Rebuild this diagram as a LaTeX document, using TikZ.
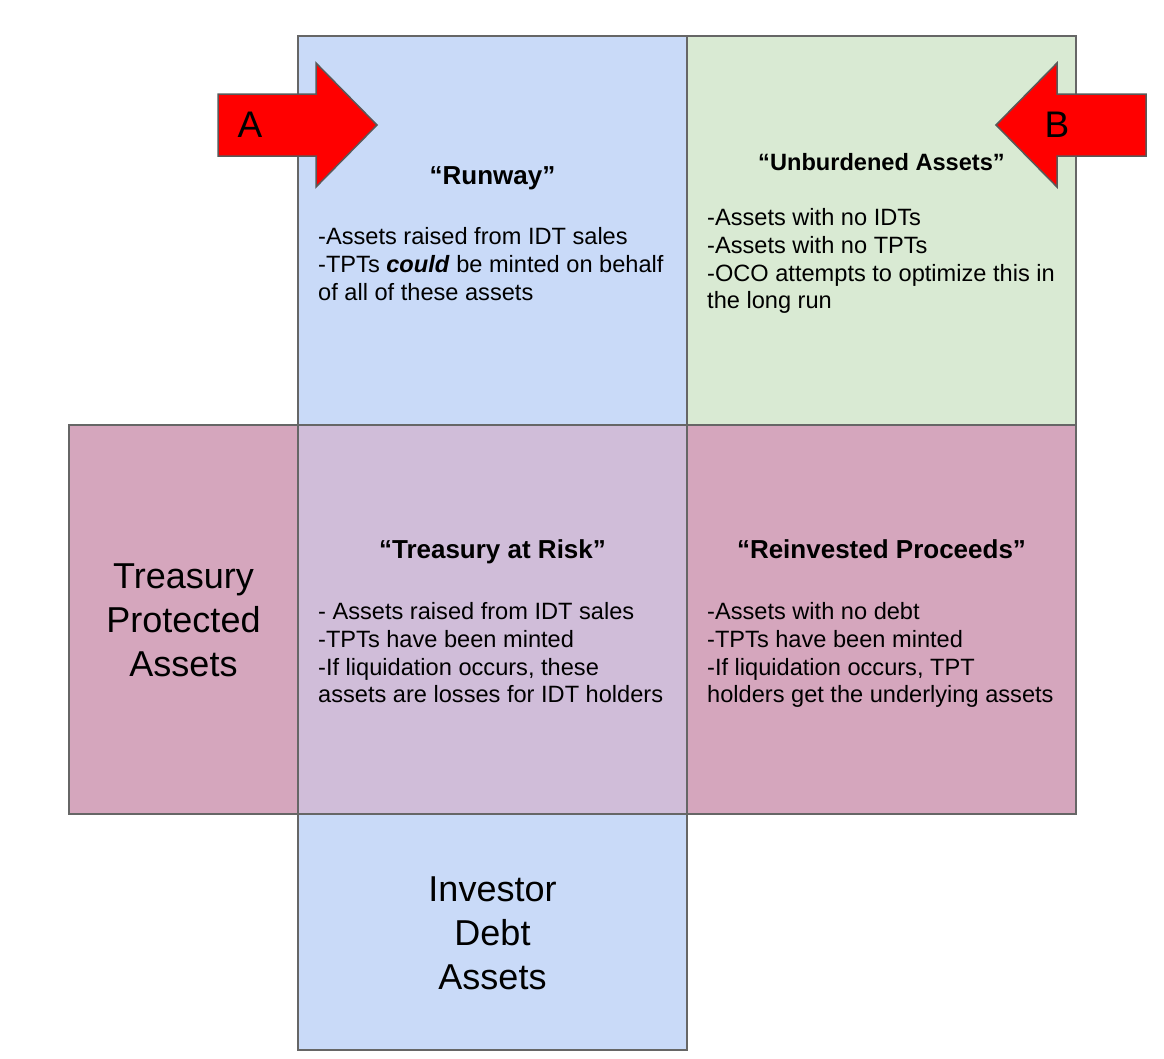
\documentclass[tikz,border=0pt]{standalone}
\usepackage{fontspec}
\setmainfont{Liberation Sans}
\usetikzlibrary{positioning}
\definecolor{runblue}{HTML}{C9DAF8}
\definecolor{freegreen}{HTML}{D9EAD3}
\definecolor{riskmauve}{HTML}{D0BDD9}
\definecolor{protpink}{HTML}{D5A6BD}
\definecolor{edgegray}{HTML}{666666}
\definecolor{arrowred}{HTML}{FF0000}
\definecolor{arrowgray}{HTML}{595959}

\begin{document}
\begin{tikzpicture}[x=1pt, y=-1pt,
    cell/.style={draw=edgegray, line width=2pt, anchor=north west, inner sep=0pt, outer sep=0pt,
      minimum width=389pt, minimum height=389pt},
    heading/.style={anchor=base, inner sep=0pt, font=\fontsize{26}{30}\selectfont\bfseries},
    bullets/.style={anchor=north west, inner sep=0pt, align=left, font=\fontsize{23.6}{27.6}\selectfont},
    biglabel/.style={inner sep=0pt, align=center, font=\fontsize{36}{44}\selectfont},
    bigarrow/.style={fill=arrowred, draw=arrowgray, line width=1.5pt, line join=miter}]
        \useasboundingbox (0,0) rectangle (1164,1058);
        % the six cells
        \node[cell, fill=runblue] (runway) at (298,36) {};
        \node[cell, fill=freegreen] (unburdened) at (687,36) {};
        \node[cell, fill=protpink, minimum width=229pt] (protected) at (69,425) {};
        \node[cell, fill=riskmauve] (atrisk) at (298,425) {};
        \node[cell, fill=protpink] (reinvested) at (687,425) {};
        \node[cell, fill=runblue, minimum height=236pt] (investor) at (298,814) {};
        % entry arrows
        \draw[bigarrow] (218,94) -- (316,94) -- (316,63) -- (377,125) -- (316,187) -- (316,156) -- (218,156) -- cycle;
        \draw[bigarrow] (1146,94) -- (1057,94) -- (1057,63) -- (996,125) -- (1057,187) -- (1057,156) -- (1146,156) -- cycle;
        \node[inner sep=0pt, font=\fontsize{37}{40}\selectfont] (labelA) at (250,125) {A};
        \node[inner sep=0pt, font=\fontsize{37}{40}\selectfont] (labelB) at (1057,125) {B};
        % headings and notes
        \node[heading] (runwayhead) at (492.5,184) {“Runway”};
        \node[bullets] (runwaytext) at (318,227.5) {-Assets raised from IDT sales\\-TPTs \textbf{\textit{could}} be minted on behalf\\of all of these assets};
        \node[heading, font=\fontsize{23.6}{28}\selectfont\bfseries] (freehead) at (881.5,170.5) {“Unburdened Assets”};
        \node[bullets] (freetext) at (707,208.5) {-Assets with no IDTs\\-Assets with no TPTs\\-OCO attempts to optimize this in\\the long run};
        \node[heading] (riskhead) at (492.5,558) {“Treasury at Risk”};
        \node[bullets] (risktext) at (318,602.5) {- Assets raised from IDT sales\\-TPTs have been minted\\-If liquidation occurs, these\\assets are losses for IDT holders};
        \node[heading] (reinvhead) at (881.5,558) {“Reinvested Proceeds”};
        \node[bullets] (reinvtext) at (707,602.5) {-Assets with no debt\\-TPTs have been minted\\-If liquidation occurs, TPT\\holders get the underlying assets};
        \node[biglabel] (protlabel) at (183.5,620) {Treasury\\Protected\\Assets};
        \node[biglabel] (invlabel) at (492.5,933.5) {Investor\\Debt\\Assets};
\end{tikzpicture}
\end{document}
